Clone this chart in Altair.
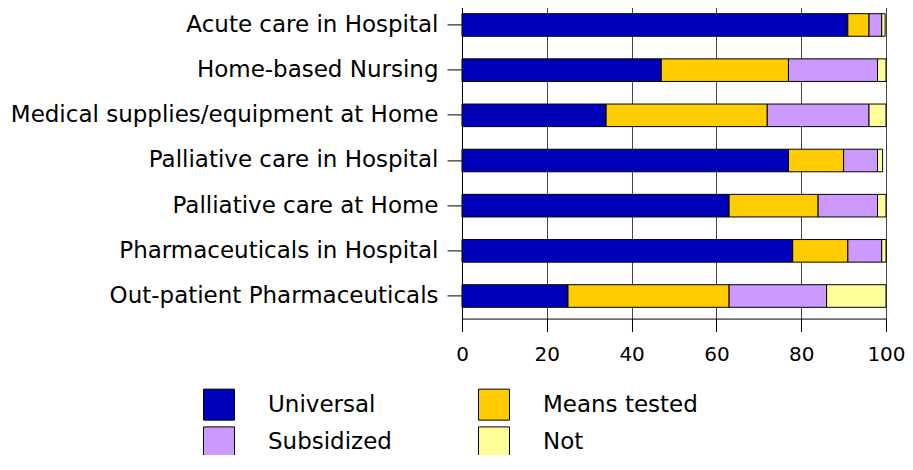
import altair as alt
import pandas as pd

categories = [
    "Acute care in Hospital",
    "Home-based Nursing",
    "Medical supplies/equipment at Home",
    "Palliative care in Hospital",
    "Palliative care at Home",
    "Pharmaceuticals in Hospital",
    "Out-patient Pharmaceuticals",
]
universal = [91, 47, 34, 77, 63, 78, 25]
means_tested = [5, 30, 38, 13, 21, 13, 38]
subsidized = [3, 21, 24, 8, 14, 8, 23]
not_covered = [0.8, 2, 4, 1.2, 2, 1, 14]

series_names = ["Universal", "Means tested", "Subsidized", "Not"]
series_colors = ["#0000BB", "#FFCC00", "#CC99FF", "#FFFF99"]
# legend fills column by column: Universal/Subsidized | Means tested/Not
legend_order = ["Universal", "Subsidized", "Means tested", "Not"]
legend_colors = ["#0000BB", "#CC99FF", "#FFCC00", "#FFFF99"]
x_ticks = [0, 20, 40, 60, 80, 100]

series_values = [universal, means_tested, subsidized, not_covered]
rows = []
for i, cat in enumerate(categories):
    for k, (name, vals) in enumerate(zip(series_names, series_values)):
        rows.append({"category": cat, "series": name, "value": vals[i], "order": k})
df = pd.DataFrame(rows)

FONT = "DejaVu Sans"

bars = alt.Chart(df).mark_bar(stroke="black", strokeWidth=1).encode(
    y=alt.Y(
        "category:N",
        sort=categories,
        scale=alt.Scale(paddingInner=0.5, paddingOuter=0.25),
        axis=alt.Axis(
            title=None,
            labelFont=FONT,
            labelFontSize=23,
            labelColor="black",
            labelLimit=800,
            labelPadding=9,
            tickSize=15,
            tickColor="black",
            domainColor="black",
            grid=False,
        ),
    ),
    x=alt.X(
        "value:Q",
        stack="zero",
        scale=alt.Scale(domain=[0, 100], nice=False),
        axis=alt.Axis(
            title=None,
            values=x_ticks,
            format="d",
            labelFont=FONT,
            labelFontSize=20,
            labelColor="black",
            labelFlush=False,
            labelPadding=13,
            tickSize=13,
            tickColor="black",
            domainColor="black",
            grid=True,
            gridColor="#444444",
            gridWidth=1,
        ),
    ),
    color=alt.Color(
        "series:N",
        scale=alt.Scale(domain=legend_order, range=legend_colors),
        legend=alt.Legend(
            title=None,
            orient="none",
            legendX=-259,
            legendY=386,
            columns=2,
            symbolType="square",
            symbolSize=961,
            symbolStrokeColor="black",
            symbolStrokeWidth=1,
            symbolOpacity=1,
            labelFont=FONT,
            labelFontSize=23,
            labelColor="black",
            labelOffset=33,
            columnPadding=84,
            rowPadding=2,
            padding=0,
        ),
    ),
    order=alt.Order("order:Q"),
)

chart = bars.properties(
    width=424,
    height=316.2,
    autosize="none",
    padding={"left": 454, "top": -5.6, "right": 19, "bottom": 136.6},
    background="white",
).configure_view(strokeWidth=0)

chart.save("out.html", embed_options={"renderer": "svg", "actions": False})
